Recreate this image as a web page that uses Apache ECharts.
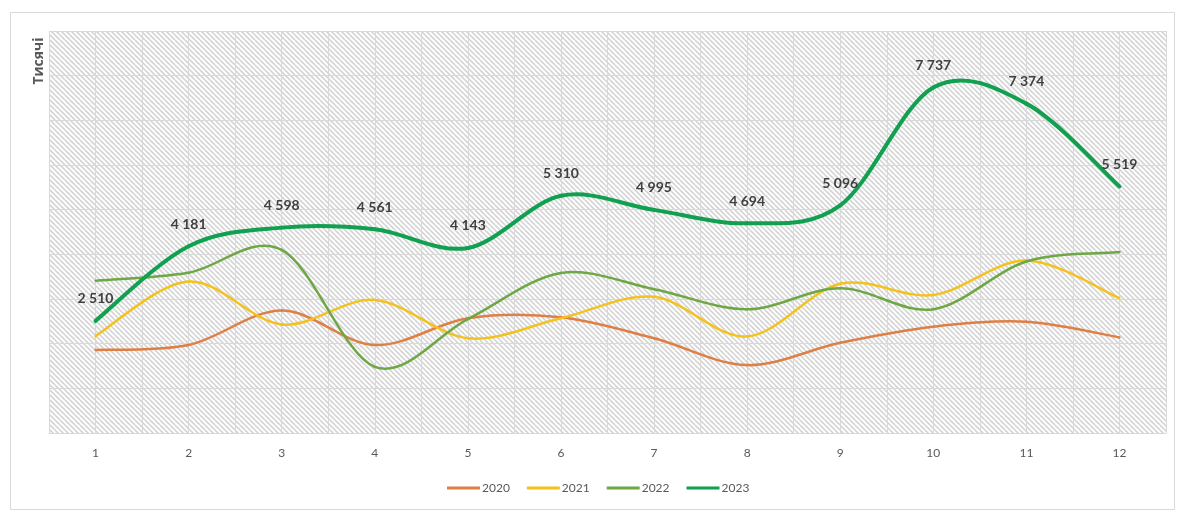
<!DOCTYPE html>
<html>
<head>
<meta charset="utf-8">
<script src="https://cdn.jsdelivr.net/npm/echarts@6/dist/echarts.min.js"></script>
<style>
html,body{margin:0;padding:0;background:#fff;}
#c{width:1186px;height:513px;}
</style>
</head>
<body>
<div id="c"></div>
<script>
const months = ['1','2','3','4','5','6','7','8','9','10','11','12'];
const y2020 = [1860, 1970, 2740, 1970, 2570, 2590, 2120, 1520, 2020, 2380, 2490, 2140];
const y2021 = [2170, 3390, 2430, 2980, 2120, 2570, 3050, 2160, 3340, 3090, 3860, 3020];
const y2022 = [3410, 3590, 4100, 1480, 2550, 3580, 3220, 2770, 3240, 2770, 3840, 4050];
const y2023 = [2510, 4181, 4598, 4561, 4143, 5310, 4995, 4694, 5096, 7737, 7374, 5519];
const seriesNames = ['2020','2021','2022','2023'];
const yTitle = 'Тисячі';

// hatch pattern
const tile = document.createElement('canvas');
const s = 5;
tile.width = s; tile.height = s;
const g = tile.getContext('2d');
g.fillStyle = '#ffffff';
g.fillRect(0,0,s,s);
g.strokeStyle = '#d4d4d4';
g.lineWidth = 1.6;
[[0,0,s,s],[-s,0,0,s],[s,0,2*s,s],[0,-s,s,0],[0,s,s,2*s]].forEach(l=>{
  g.beginPath(); g.moveTo(l[0],l[1]); g.lineTo(l[2],l[3]); g.stroke();
});

const fmt = v => String(v).replace(/\B(?=(\d{3})+(?!\d))/g, ' ');
const font = 'Lato, "Open Sans", sans-serif';
const colors = ['#DE7F45', '#F4C21F', '#6EA845', '#10A04F'];
const widths = [2.5, 2.5, 2.5, 4];
const data = [y2020, y2021, y2022, y2023];

// Excel-like smoothing (Catmull-Rom style Bezier) drawn from axis coordinates
function makeRender(arr, si) {
  return function (params, api) {
    const i = params.dataIndex;
    const n = arr.length;
    const P = k => api.coord([Math.max(0, Math.min(n - 1, k)), arr[Math.max(0, Math.min(n - 1, k))]]);
    const children = [];
    if (i < n - 1) {
      const p0 = P(i - 1), p1 = P(i), p2 = P(i + 1), p3 = P(i + 2);
      const f = 1 / 6;
      children.push({
        type: 'bezierCurve',
        shape: {
          x1: p1[0], y1: p1[1], x2: p2[0], y2: p2[1],
          cpx1: p1[0] + (p2[0] - p0[0]) * f, cpy1: p1[1] + (p2[1] - p0[1]) * f,
          cpx2: p2[0] - (p3[0] - p1[0]) * f, cpy2: p2[1] - (p3[1] - p1[1]) * f
        },
        style: {stroke: colors[si], lineWidth: widths[si], fill: null, lineCap: 'round', lineJoin: 'round'}
      });
    }
    if (si === 3) {
      const p = P(i);
      children.push({
        type: 'text', z2: 10,
        x: p[0], y: p[1] - 15,
        style: {text: fmt(arr[i]), fontFamily: font, fontWeight: 'bold', fontSize: 14,
          fill: '#404040', align: 'center', verticalAlign: 'bottom'}
      });
    }
    return {type: 'group', children: children};
  };
}

const chart = echarts.init(document.getElementById('c'), null, {renderer:'canvas'});
chart.setOption({
  animation: false,
  backgroundColor: '#ffffff',
  color: colors,
  grid: {left: 49, right: 20, top: 31, bottom: 80, show: true,
    backgroundColor: {image: tile, repeat: 'repeat'}, borderWidth: 0},
  graphic: [
    {type: 'rect', shape: {x: 10.5, y: 12.5, width: 1164, height: 497},
      style: {fill: 'none', stroke: '#d9d9d9', lineWidth: 1}, z: -10},
    {type: 'text', x: 39, y: 61, rotation: Math.PI/2,
      style: {text: yTitle, font: 'bold 14px "Open Sans", sans-serif', fill: '#595959',
        textAlign: 'center', textVerticalAlign: 'middle'}}
  ],
  legend: {
    bottom: 14, left: 442, itemWidth: 33, itemHeight: 3, itemGap: 17,
    icon: 'rect',
    textStyle: {color: '#595959', fontSize: 12, fontFamily: font, padding: [0,0,0,-3]},
    data: seriesNames
  },
  xAxis: [
    {type: 'category', data: months, boundaryGap: true,
      axisLine: {show: true, lineStyle: {color: '#d9d9d9'}},
      axisTick: {show: false},
      axisLabel: {color: '#595959', fontSize: 12, fontFamily: font, margin: 14},
      splitLine: {show: false}},
    {type: 'value', min: 0.5, max: 12.5, interval: 0.5, position: 'top',
      axisLine: {show: false}, axisTick: {show: false}, axisLabel: {show: false},
      splitLine: {show: true, lineStyle: {color: '#d9d9d9', width: 1}}}
  ],
  yAxis: {
    type: 'value', min: 0, max: 9000, interval: 1000,
    axisLine: {show: false}, axisTick: {show: false}, axisLabel: {show: false},
    splitLine: {show: true, lineStyle: {color: '#d9d9d9', width: 1}}
  },
  series: seriesNames.map((n, i) => ({
    name: n, type: 'custom', xAxisIndex: 0, yAxisIndex: 0,
    data: data[i].map((v, k) => [k, v]),
    encode: {x: 0, y: 1},
    renderItem: makeRender(data[i], i),
    itemStyle: {color: colors[i]},
    clip: false,
    z: i + 2
  }))
});
</script>
</body>
</html>
